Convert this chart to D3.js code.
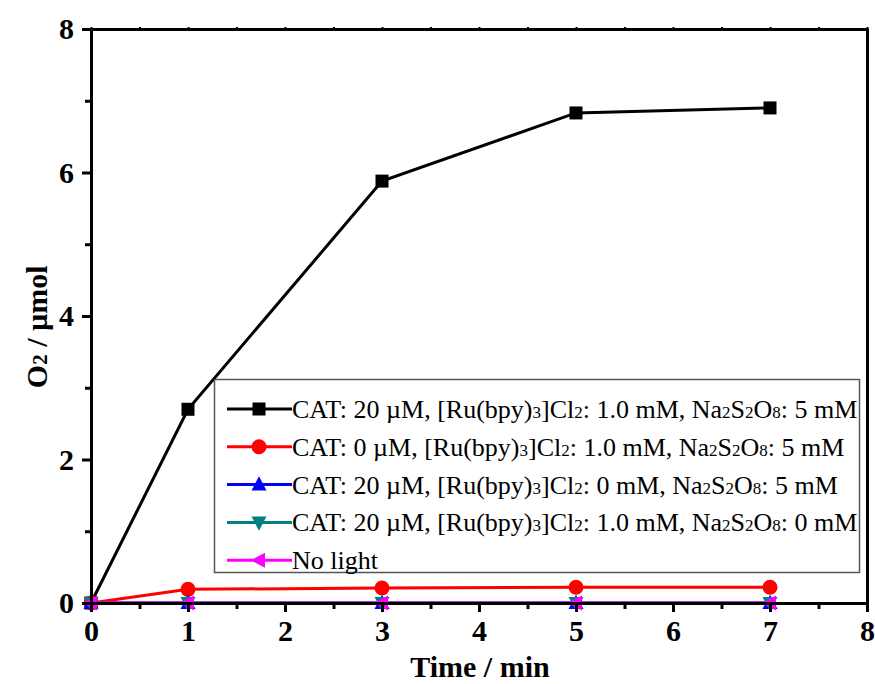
<!DOCTYPE html>
<html>
<head>
<meta charset="utf-8">
<script src="https://cdn.jsdelivr.net/npm/d3@7"></script>
<style>
  body { margin: 0; background: #fff; }
  svg { display: block; font-family: "Liberation Serif", "Times New Roman", serif; }
</style>
</head>
<body>
<svg id="chart" width="875" height="684"></svg>
<script>
// Time points (min)
const times = [0, 1, 3, 5, 7];

// O2 evolved (µmol) for each condition
const catFull   = [0, 2.70, 5.88, 6.83, 6.90];
const catZero   = [0, 0.19, 0.21, 0.22, 0.22];
const noRu      = [0, 0, 0, 0, 0];
const noPersulf = [0, 0, 0, 0, 0];
const noLight   = [0, 0, 0, 0, 0];

const xTicks = [0, 1, 2, 3, 4, 5, 6, 7, 8];
const yTicks = [0, 2, 4, 6, 8];

// Legend label parts: [text, isSubscript]
const labelFull = [["CAT: 20 µM, [Ru(bpy)",0],["3",1],["]Cl",0],["2",1],[": 1.0 mM, Na",0],["2",1],["S",0],["2",1],["O",0],["8",1],[": 5 mM",0]];
const labelCat0 = [["CAT: 0 µM, [Ru(bpy)",0],["3",1],["]Cl",0],["2",1],[": 1.0 mM, Na",0],["2",1],["S",0],["2",1],["O",0],["8",1],[": 5 mM",0]];
const labelRu0  = [["CAT: 20 µM, [Ru(bpy)",0],["3",1],["]Cl",0],["2",1],[": 0 mM, Na",0],["2",1],["S",0],["2",1],["O",0],["8",1],[": 5 mM",0]];
const labelS0   = [["CAT: 20 µM, [Ru(bpy)",0],["3",1],["]Cl",0],["2",1],[": 1.0 mM, Na",0],["2",1],["S",0],["2",1],["O",0],["8",1],[": 0 mM",0]];
const labelDark = [["No light",0]];

const series = [
  { values: catFull,   color: "#000000", marker: "square",   label: labelFull },
  { values: catZero,   color: "#ff0000", marker: "circle",   label: labelCat0 },
  { values: noRu,      color: "#0000ff", marker: "triUp",    label: labelRu0 },
  { values: noPersulf, color: "#008080", marker: "triDown",  label: labelS0 },
  { values: noLight,   color: "#ff00ff", marker: "triLeft",  label: labelDark }
];

const svg = d3.select("#chart");
const m = { left: 91, right: 8, top: 29, bottom: 81 };
const W = 875, H = 684;
const x = d3.scaleLinear().domain([0, 8]).range([m.left, W - m.right]);
const y = d3.scaleLinear().domain([0, 8]).range([H - m.bottom, m.top]);

function markerPath(type, s) {
  const h = s / 2;
  switch (type) {
    case "square":  return `M${-h},${-h}H${h}V${h}H${-h}Z`;
    case "triUp":   return `M0,${-h*1.1}L${h},${h*0.8}L${-h},${h*0.8}Z`;
    case "triDown": return `M0,${h*1.1}L${h},${-h*0.8}L${-h},${-h*0.8}Z`;
    case "triLeft": return `M${-h*1.1},0L${h*0.8},${-h}L${h*0.8},${h}Z`;
  }
}
function drawMarker(g, type, color, cx, cy) {
  if (type === "circle") {
    g.append("circle").attr("cx", cx).attr("cy", cy).attr("r", 7.5).attr("fill", color);
  } else {
    const size = type === "square" ? 13 : 15;
    g.append("path").attr("d", markerPath(type, size))
      .attr("transform", `translate(${cx},${cy})`).attr("fill", color);
  }
}

// Data lines and markers
const line = d3.line().x((d, i) => x(times[i])).y(d => y(d));
const plot = svg.append("g");
series.forEach(s => {
  plot.append("path").datum(s.values).attr("d", line)
    .attr("fill", "none").attr("stroke", s.color).attr("stroke-width", 3);
  s.values.forEach((v, i) => drawMarker(plot, s.marker, s.color, x(times[i]), y(v)));
});

// Axes
const tickFont = g => g.selectAll("text")
  .attr("font-family", "Liberation Serif, serif").attr("font-weight", "bold")
  .attr("font-size", 30).attr("fill", "#000");
const axisStyle = g => {
  g.select(".domain").attr("stroke", "#000").attr("stroke-width", 3);
  g.selectAll(".tick line").attr("stroke", "#000").attr("stroke-width", 3);
};

const xAxis = svg.append("g").attr("transform", `translate(0,${y(0)})`)
  .call(d3.axisBottom(x).tickValues(xTicks).tickFormat(d3.format("d")).tickSize(9).tickPadding(8).tickSizeOuter(0));
axisStyle(xAxis); tickFont(xAxis);
svg.append("g").attr("transform", `translate(0,${y(0)})`)
  .call(d3.axisBottom(x).tickValues(d3.range(0.5, 8, 1)).tickFormat("").tickSize(6).tickSizeOuter(0))
  .call(g => { g.select(".domain").remove(); g.selectAll(".tick line").attr("stroke", "#000").attr("stroke-width", 3); });

const yAxis = svg.append("g").attr("transform", `translate(${x(0)},0)`)
  .call(d3.axisLeft(y).tickValues(yTicks).tickFormat(d3.format("d")).tickSize(9).tickPadding(8).tickSizeOuter(0));
axisStyle(yAxis); tickFont(yAxis);
svg.append("g").attr("transform", `translate(${x(0)},0)`)
  .call(d3.axisLeft(y).tickValues([1, 3, 5, 7]).tickFormat("").tickSize(6).tickSizeOuter(0))
  .call(g => { g.select(".domain").remove(); g.selectAll(".tick line").attr("stroke", "#000").attr("stroke-width", 3); });

// Top and right frame with small ticks
svg.append("g").attr("transform", `translate(0,${y(8)})`)
  .call(d3.axisTop(x).tickValues(d3.range(0, 8.01, 0.5)).tickFormat("").tickSize(2).tickSizeOuter(0))
  .call(g => { g.select(".domain").attr("stroke", "#000").attr("stroke-width", 3); g.selectAll(".tick line").attr("stroke", "#000").attr("stroke-width", 2); });
svg.append("g").attr("transform", `translate(${x(8)},0)`)
  .call(d3.axisRight(y).tickValues(d3.range(0, 8.01, 1)).tickFormat("").tickSize(2).tickSizeOuter(0))
  .call(g => { g.select(".domain").attr("stroke", "#000").attr("stroke-width", 3); g.selectAll(".tick line").attr("stroke", "#000").attr("stroke-width", 2); });

// Axis titles
svg.append("text").attr("x", 480).attr("y", 677).attr("text-anchor", "middle")
  .attr("font-weight", "bold").attr("font-size", 30).text("Time / min");
const yt = svg.append("text").attr("transform", `translate(47,${y(3.85)}) rotate(-90)`)
  .attr("text-anchor", "middle").attr("font-weight", "bold").attr("font-size", 30);
yt.append("tspan").text("O");
yt.append("tspan").attr("font-size", 21).text("2");
yt.append("tspan").text(" / µmol");

// Legend
const lg = svg.append("g");
lg.append("rect").attr("x", 214.5).attr("y", 379.5).attr("width", 645).attr("height", 193)
  .attr("fill", "#fff").attr("stroke", "#555").attr("stroke-width", 1.5);
series.forEach((s, i) => {
  const cy = 409 + i * 37.8;
  lg.append("line").attr("x1", 227).attr("x2", 292).attr("y1", cy).attr("y2", cy)
    .attr("stroke", s.color).attr("stroke-width", 3);
  drawMarker(lg, s.marker, s.color, 259, cy);
  const t = lg.append("text").attr("x", 292).attr("y", cy + 9).attr("font-size", 26);
  s.label.forEach(([txt, sub]) => {
    t.append("tspan").attr("font-size", sub ? 17 : 26).text(txt);
  });
});
</script>
</body>
</html>
